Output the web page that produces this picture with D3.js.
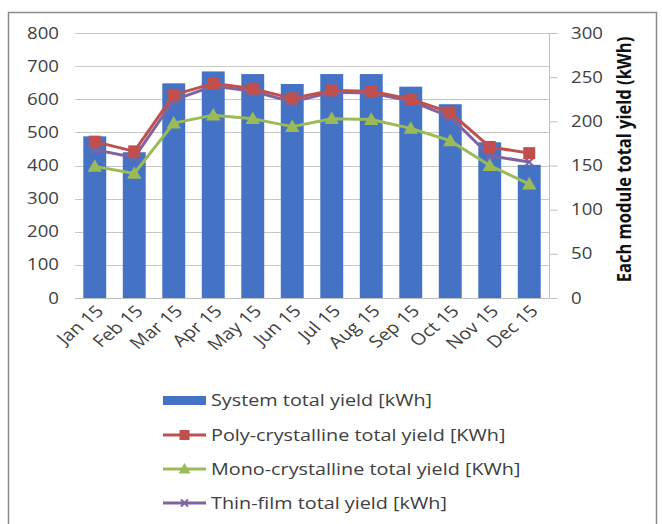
<!DOCTYPE html>
<html>
<head>
<meta charset="utf-8">
<script src="https://cdn.jsdelivr.net/npm/d3@7"></script>
<style>
  html, body { margin: 0; padding: 0; background: #fff; }
  svg { display: block; font-family: "Open Sans", Lato, sans-serif; }
</style>
</head>
<body>
<svg id="chart" width="662" height="524"></svg>
<script>
// Monthly categories
const months = ["Jan 15", "Feb 15", "Mar 15", "Apr 15", "May 15", "Jun 15",
                "Jul 15", "Aug 15", "Sep 15", "Oct 15", "Nov 15", "Dec 15"];
// System total yield [kWh] (left axis, bars)
const systemYield = [488, 440, 648, 684, 676, 646, 676, 676, 638, 585, 470, 402];
// Per-module total yields [kWh] (right axis, lines)
const polyYield = [177, 166, 230, 243, 237, 226, 235, 234, 225, 210, 171, 164];
const monoYield = [149, 141, 198, 207, 203, 194, 203, 202, 192, 178, 150, 129];
const thinYield = [168, 159, 224, 240, 234, 222, 233, 232, 223, 205, 161, 154];
// Tick labels
const leftTicks = [0, 100, 200, 300, 400, 500, 600, 700, 800];
const rightTicks = [0, 50, 100, 150, 200, 250, 300];

const svg = d3.select("#chart");
const plot = { left: 75, right: 549, top: 33, bottom: 298 };
const textColor = "#404040";
const sx = 1.2; // horizontal widening of the lettering

// frame around the chart
svg.append("rect")
  .attr("x", 8.5).attr("y", 12.5).attr("width", 648).attr("height", 530)
  .attr("fill", "none").attr("stroke", "#8c8c8c").attr("stroke-width", 1.5);

const x = d3.scaleBand().domain(months).range([plot.left, plot.right])
  .paddingInner(0.42).paddingOuter(0.21);
const yL = d3.scaleLinear().domain([0, 800]).range([plot.bottom, plot.top]);
const yR = d3.scaleLinear().domain([0, 300]).range([plot.bottom, plot.top]);

// gridlines
svg.append("g").selectAll("line").data(leftTicks).join("line")
  .attr("x1", plot.left).attr("x2", plot.right)
  .attr("y1", d => Math.round(yL(d)) + 0.5).attr("y2", d => Math.round(yL(d)) + 0.5)
  .attr("stroke", "#c8c8c8").attr("stroke-width", 1);

// left axis labels
svg.append("g").selectAll("text").data(leftTicks).join("text")
  .attr("transform", d => `translate(59,${yL(d)}) scale(${sx},1)`)
  .attr("dy", "0.36em")
  .attr("text-anchor", "end").attr("font-size", 15.5).attr("fill", textColor)
  .text(d => d);

// bars
svg.append("g").selectAll("rect").data(systemYield).join("rect")
  .attr("x", (d, i) => x(months[i])).attr("width", x.bandwidth())
  .attr("y", d => yL(d)).attr("height", d => yL(0) - yL(d))
  .attr("fill", "#4472c4");

// right axis
const rightAxis = d3.axisRight(yR).tickValues(rightTicks).tickSize(8).tickFormat("");
const gR = svg.append("g").attr("transform", `translate(${plot.right + 0.5},0)`).call(rightAxis);
gR.selectAll("path, line").attr("stroke", "#bfbfbf");
gR.select(".domain").attr("d", `M0,${plot.top}V${plot.bottom}`);
svg.append("g").selectAll("text").data(rightTicks).join("text")
  .attr("transform", d => `translate(571,${yR(d)}) scale(${sx},1)`)
  .attr("dy", "0.36em")
  .attr("text-anchor", "start").attr("font-size", 15.5).attr("fill", textColor)
  .text(d => d);

// bottom axis line
svg.append("line").attr("x1", plot.left).attr("x2", plot.right)
  .attr("y1", plot.bottom + 0.5).attr("y2", plot.bottom + 0.5)
  .attr("stroke", "#bfbfbf");

// right axis title
svg.append("text")
  .attr("transform", `translate(631,${(plot.top + plot.bottom) / 2 - 6}) scale(${sx},1) rotate(-90)`)
  .attr("text-anchor", "middle").attr("font-size", 16.5).attr("font-weight", "bold")
  .attr("fill", "#111").text("Each module total yield (kWh)");

// x labels
const cx = m => x(m) + x.bandwidth() / 2;
svg.append("g").selectAll("text").data(months).join("text")
  .attr("transform", m => `translate(${cx(m) + 5},${plot.bottom + 10}) scale(${sx},1) rotate(-45)`)
  .attr("text-anchor", "end").attr("font-size", 16.5).attr("fill", textColor)
  .attr("dy", "0.36em").text(m => m);

// line series
const series = [
  { name: "Poly-crystalline total yield [KWh]", values: polyYield, color: "#c0504d", marker: "square" },
  { name: "Mono-crystalline total yield [KWh]", values: monoYield, color: "#9bbb59", marker: "triangle" },
  { name: "Thin-film total yield [kWh]", values: thinYield, color: "#8064a2", marker: "x" }
];
const drawOrder = [series[2], series[1], series[0]];

function marker(g, type, color, px, py, s) {
  if (type === "square") {
    g.append("rect").attr("x", px - s / 2).attr("y", py - s / 2)
      .attr("width", s).attr("height", s).attr("fill", color);
  } else if (type === "triangle") {
    g.append("path").attr("d", `M${px},${py - s * 0.6}L${px + s * 0.6},${py + s * 0.45}L${px - s * 0.6},${py + s * 0.45}Z`)
      .attr("fill", color);
  } else {
    const h = s / 2;
    g.append("path").attr("d", `M${px - h},${py - h}L${px + h},${py + h}M${px - h},${py + h}L${px + h},${py - h}`)
      .attr("stroke", color).attr("stroke-width", 2);
  }
}

const sizes = { square: 12, triangle: 12, x: 8 };
const line = d3.line().x((d, i) => cx(months[i])).y(d => yR(d));
drawOrder.forEach(s => {
  const g = svg.append("g");
  g.append("path").datum(s.values).attr("d", line)
    .attr("fill", "none").attr("stroke", s.color).attr("stroke-width", 3)
    .attr("stroke-linejoin", "round");
  s.values.forEach((v, i) => marker(g, s.marker, s.color, cx(months[i]), yR(v), sizes[s.marker]));
});

// legend
const legendX = 163, legendW = 43, textX = 211;
const rows = [400, 435, 469, 503];
const lg = svg.append("g");
lg.append("rect").attr("x", legendX).attr("y", rows[0] - 4).attr("width", legendW).attr("height", 9)
  .attr("fill", "#4472c4");
function legendText(yy, str) {
  lg.append("text").attr("transform", `translate(${textX},${yy}) scale(${sx},1)`)
    .attr("dy", "0.36em").attr("font-size", 16.5).attr("fill", textColor).text(str);
}
legendText(rows[0], "System total yield [kWh]");
series.forEach((s, k) => {
  const yy = rows[k + 1];
  lg.append("line").attr("x1", legendX).attr("x2", legendX + legendW)
    .attr("y1", yy).attr("y2", yy).attr("stroke", s.color).attr("stroke-width", 3);
  marker(lg, s.marker, s.color, legendX + legendW / 2, yy, s.marker === "x" ? 7 : 10);
  legendText(yy, s.name);
});
</script>
</body>
</html>
